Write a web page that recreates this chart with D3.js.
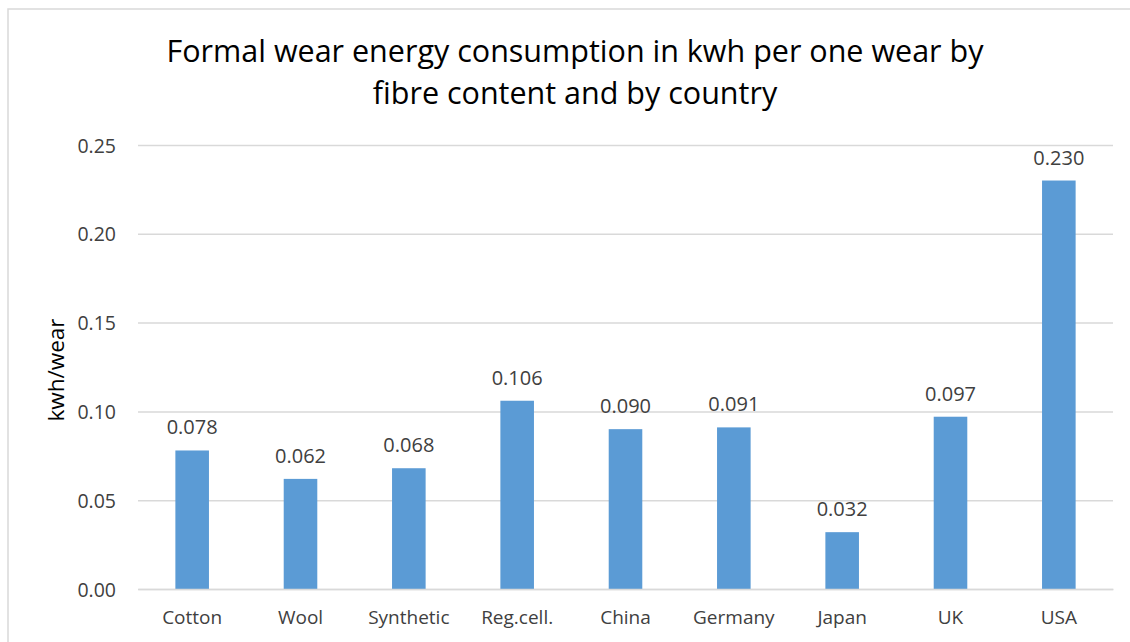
<!DOCTYPE html>
<html><head><meta charset="utf-8">
<script src="https://cdn.jsdelivr.net/npm/d3@7"></script>
<style>html,body{margin:0;padding:0;background:#fff;}svg{display:block;font-family:"Open Sans",sans-serif;}</style>
</head><body>
<svg id="chart" width="1130" height="642"></svg>
<script>
const categories = ["Cotton","Wool","Synthetic","Reg.cell.","China","Germany","Japan","UK","USA"];
const values = [0.078,0.062,0.068,0.106,0.090,0.091,0.032,0.097,0.230];
const labels = ["0.078","0.062","0.068","0.106","0.090","0.091","0.032","0.097","0.230"];
const yTicks = [0,0.05,0.10,0.15,0.20,0.25];
const titleLines = ["Formal wear energy consumption in kwh per one wear by","fibre content and by country"];
const yTitle = "kwh/wear";

const svg = d3.select("#chart");
const m = {left:138, right:1113, top:145, bottom:589};
svg.append("rect").attr("x",8).attr("y",9).attr("width",1140).attr("height",640)
  .attr("fill","#fff").attr("stroke","#d9d9d9").attr("stroke-width",1.5);

const x = d3.scaleBand().domain(categories).range([m.left,m.right]).paddingInner(0.69).paddingOuter(0.345);
const y = d3.scaleLinear().domain([0,0.25]).range([m.bottom,m.top]);

const gy = svg.append("g").attr("transform",`translate(${m.left},0)`)
  .call(d3.axisLeft(y).tickValues(yTicks).tickFormat(d3.format(".2f")).tickSize(-(m.right-m.left)).tickPadding(22));
gy.select(".domain").remove();
gy.selectAll(".tick line").attr("stroke","#d9d9d9").attr("stroke-width",1.5);
gy.selectAll(".tick text").attr("fill","#404040").attr("font-size",19.5).attr("font-family","Open Sans").attr("dy","0.36em");

svg.selectAll("rect.bar").data(values).join("rect").attr("class","bar")
  .attr("x",(d,i)=>x(categories[i])).attr("width",x.bandwidth())
  .attr("y",d=>y(d)).attr("height",d=>y(0)-y(d)).attr("fill","#5b9bd5");

svg.selectAll("text.lbl").data(values).join("text").attr("class","lbl")
  .attr("x",(d,i)=>x(categories[i])+x.bandwidth()/2).attr("y",d=>y(d)-16)
  .attr("text-anchor","middle").attr("font-size",20).attr("fill","#404040").text((d,i)=>labels[i]);

const gx = svg.append("g").attr("transform",`translate(0,${m.bottom})`)
  .call(d3.axisBottom(x).tickSize(0).tickPadding(0));
gx.select(".domain").attr("stroke","#d9d9d9").attr("stroke-width",1.5);
gx.selectAll(".tick text").attr("fill","#404040").attr("font-size",19).attr("font-family","Open Sans")
  .attr("dy",null).attr("y",35);

svg.append("text").attr("transform","translate(64,370) rotate(-90)").attr("text-anchor","middle")
  .attr("font-size",22.5).attr("fill","#000").text(yTitle);

svg.selectAll("text.title").data(titleLines).join("text").attr("class","title")
  .attr("x",575).attr("y",(d,i)=>62+i*42).attr("text-anchor","middle")
  .attr("font-size",30.5).attr("fill","#000").text(d=>d);
</script>
</body></html>
